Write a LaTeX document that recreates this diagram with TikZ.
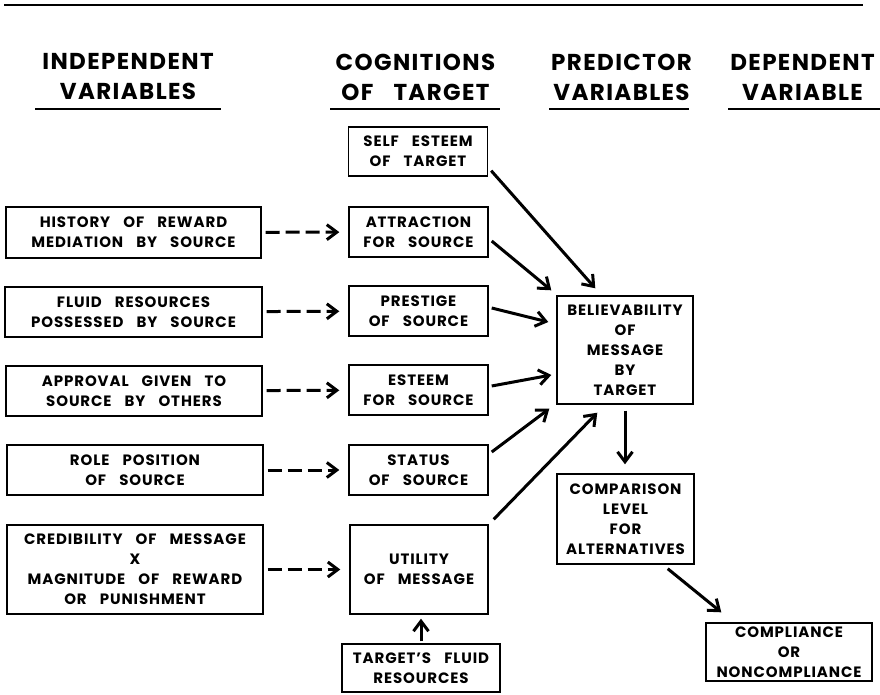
\documentclass[tikz,border=0pt]{standalone}
\usepackage{fontspec}
\setmainfont{Poppins}[LetterSpace=6,WordSpace=3.2]
\usetikzlibrary{positioning, calc, arrows.meta}

\begin{document}
\begin{tikzpicture}[x=1pt,y=-1pt,
        box/.style={draw, line width=1.4pt, inner sep=0pt, align=center, font=\fontsize{15}{20}\selectfont\bfseries},
        indep/.style={box, minimum width=256pt, minimum height=50pt},
        cogn/.style={box, minimum width=139pt, minimum height=50pt},
        head/.style={align=center, font=\fontsize{23}{30}\selectfont\bfseries},
        arr/.style={line width=3pt, -{Straight Barb[length=10pt,width=15pt]}},
        darr/.style={arr, dash pattern=on 14pt off 6pt, shorten <=4pt, shorten >=9pt}]
    \useasboundingbox (0,0) rectangle (880,694);
    % rule and headings
    \draw[line width=2.5pt] (4,5) -- (863,5);
    \node[head] (hind) at (128,77) {INDEPENDENT\\VARIABLES};
    \node[head] (hcog) at (415.5,77) {COGNITIONS\\OF TARGET};
    \node[head] (hpre) at (621.5,77) {PREDICTOR\\VARIABLES};
    \node[head] (hdep) at (802.5,77) {DEPENDENT\\VARIABLE};
    \draw[line width=2pt] (35,109) -- (221,109);
    \draw[line width=2pt] (330,109) -- (500,109);
    \draw[line width=2pt] (549,109) -- (689,109);
    \draw[line width=2pt] (728,109) -- (880,109);
    % independent variables
    \node[indep, minimum width=255pt, minimum height=51pt] (hist) at (133.5,232.5) {HISTORY OF REWARD\\MEDIATION BY SOURCE};
    \node[indep, minimum width=257pt] (fluid) at (133.5,312) {FLUID RESOURCES\\POSSESSED BY SOURCE};
    \node[indep] (appr) at (134,391) {APPROVAL GIVEN TO\\SOURCE BY OTHERS};
    \node[indep] (role) at (135,470) {ROLE POSITION\\OF SOURCE};
    \node[indep, minimum height=89pt] (cred) at (135,569.5) {CREDIBILITY OF MESSAGE\\X\\MAGNITUDE OF REWARD\\OR PUNISHMENT};
    % cognitions of target
    \node[cogn, minimum height=49pt] (selfe) at (418,151.5) {SELF ESTEEM\\OF TARGET};
    \node[cogn] (attr) at (418.5,232) {ATTRACTION\\FOR SOURCE};
    \node[cogn] (prest) at (418.5,311) {PRESTIGE\\OF SOURCE};
    \node[cogn] (estm) at (418.5,390) {ESTEEM\\FOR SOURCE};
    \node[cogn] (stat) at (418.5,470) {STATUS\\OF SOURCE};
    \node[cogn, minimum width=138pt, minimum height=89pt] (util) at (419,569.5) {UTILITY\\OF MESSAGE};
    \node[cogn, minimum width=158pt, minimum height=48pt] (tfr) at (421,668) {TARGET'S FLUID\\RESOURCES};
    % predictor and dependent
    \node[box, minimum width=136pt, minimum height=108pt] (bel) at (625,350) {BELIEVABILITY\\OF\\MESSAGE\\BY\\TARGET};
    \node[box, minimum width=137pt, minimum height=90pt] (comp) at (625.5,519) {COMPARISON\\LEVEL\\FOR\\ALTERNATIVES};
    \node[box, minimum width=166pt, minimum height=58pt] (compl) at (789,652) {COMPLIANCE\\OR\\NONCOMPLIANCE};
    % dashed arrows
    \draw[darr] (hist) -- (attr);
    \draw[darr] (fluid) -- (prest);
    \draw[darr] (appr) -- (estm);
    \draw[darr] (role) -- (stat);
    \draw[darr] (cred) -- (util);
    % solid arrows
    \draw[arr] ([shift={(3,-6)}]selfe.south east) -- ([shift={(39,-7)}]bel.north west);
    \draw[arr] ([shift={(3,9)}]attr.east) -- ([shift={(-5,-5)}]bel.north west);
    \draw[arr] ([shift={(3,-3)}]prest.east) -- ([shift={(-8,-28)}]bel.west);
    \draw[arr] ([shift={(3,-4)}]estm.east) -- ([shift={(-5,25)}]bel.west);
    \draw[arr] ([shift={(3,-18)}]stat.east) -- ([shift={(-7,4)}]bel.south west);
    \draw[arr] ([shift={(5,-5)}]util.north east) -- ([shift={(41,8)}]bel.south west);
    \draw[arr, shorten <=6pt, shorten >=9pt] (bel.south) -- (bel.south |- comp.north);
    \draw[arr] ([shift={(-27,4)}]comp.south east) -- ([shift={(16,-10)}]compl.north west);
    \draw[arr, shorten <=2pt, shorten >=4pt] (tfr.north) -- (tfr.north |- util.south);
\end{tikzpicture}
\end{document}
